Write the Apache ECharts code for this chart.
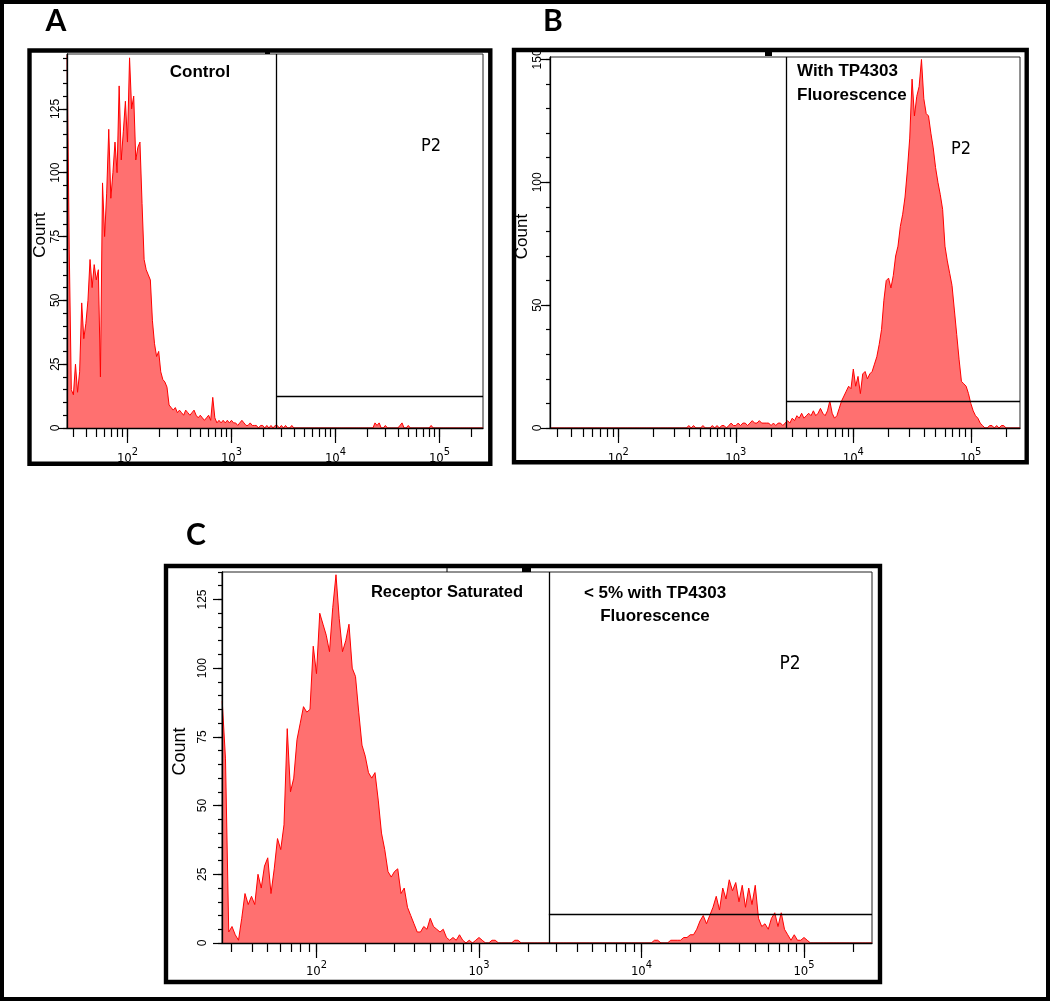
<!DOCTYPE html>
<html><head><meta charset="utf-8">
<script src="https://cdn.jsdelivr.net/npm/echarts@6/dist/echarts.min.js"></script>
<style>html,body{margin:0;padding:0;background:#fff}#c{width:1050px;height:1003px}</style>
</head><body><div id="c"></div>
<script>
// Histogram bins along log10(fluorescence): bin i sits at binStart + i*binStep
const binStart = 1.42;
const binStep = 0.02;

// Panel A: Control
const countsA = [
 146,70,15,13,25,14,22,49,35,41,
 50,66,55,64,58,62,20,96,75,92,
 117,90,100,112,100,134,105,116,128,112,
 145,125,130,105,110,112,88,66,62,60,
 58,42,33,28,30,22,19,18,16,9,
 8,7,8,6,7,6,5,7,6,5,
 6,7,5,4,5,4,3,4,5,3,
 12,4,2,3,2,3,2,3,2,3,
 2,2,1,2,3,2,1,1,2,1,
 1,1,0,1,1,0,1,0,1,0,
 1,1,0,1,0,1,0,0,1,0,
 0,0,0,0,0,0,0,0,0,0,
 0,0,0,0,0,0,0,0,0,0,
 0,0,0,0,0,0,0,0,0,0,
 0,0,0,0,0,0,0,0,2,1,
 2,0,0,1,0,0,0,0,0,0,
 1,2,0,0,1,0,0,0,0,0,
 0,0,0,0,0,1,0,0,0,0,
 0,0,0,0,0,0,0,0,0,0,
 0,0,0,0,0,0,0,0,0,0,
 0];

// Panel B: With TP4303 fluorescence
const countsB = [
 0,0,0,0,0,0,0,0,0,0,
 0,0,0,0,0,0,0,0,0,0,
 0,0,0,0,0,0,0,0,0,0,
 0,0,0,0,0,0,0,0,0,0,
 0,0,0,0,0,0,0,0,0,0,
 0,0,0,0,0,0,0,0,0,1,
 0,1,0,0,0,1,0,0,0,1,
 0,1,0,1,1,0,1,2,1,1,
 2,1,2,2,1,2,3,2,2,3,
 2,2,2,2,1,2,1,2,2,1,
 2,3,2,4,3,5,4,6,4,5,
 6,5,7,5,6,8,6,5,7,11,
 6,4,5,8,11,13,15,17,16,24,
 17,21,14,22,23,20,22,23,26,29,
 34,40,52,60,61,57,62,70,74,82,
 87,94,105,118,142,127,135,139,150,134,
 128,127,120,114,106,100,95,89,74,68,
 63,58,48,38,28,19,18,17,14,10,
 7,5,4,2,1,0,0,1,1,0,
 1,0,1,1,0,0,0,0,0,0,
 0];

// Panel C: Receptor saturated
const countsC = [
 88,67,4,6,3,1,9,18,14,17,
 14,25,20,28,31,18,27,38,34,43,
 78,55,60,74,80,86,84,85,108,98,
 120,116,112,106,122,134,118,106,110,116,
 100,97,84,72,68,62,60,62,52,40,
 34,26,24,26,27,18,20,13,10,7,
 4,4,6,5,9,6,5,4,5,2,
 1,2,1,3,1,0,1,0,1,2,
 1,0,0,1,1,0,0,0,0,0,
 1,1,0,0,0,0,0,0,0,0,
 0,0,0,0,0,0,0,0,0,0,
 0,0,0,0,0,0,0,0,0,0,
 0,0,0,0,0,0,0,0,0,0,
 0,0,0,1,1,0,0,0,1,1,
 1,1,2,2,3,3,5,8,10,7,
 10,13,17,12,20,16,23,19,22,15,
 21,13,20,14,21,9,6,7,5,9,
 11,6,11,5,3,1,3,1,1,2,
 1,0,0,0,0,0,0,0,0,0,
 0,0,0,0,0,0,0,0,0,0,
 0];

const panelCounts = [countsA, countsB, countsC];
const panelLetters = ['A', 'B', 'C'];
const xMin = 1.4185;          // log10 of axis minimum (~26)
const xMax = 5.4185;          // log10 of 262144
const decadeTicks = [2, 3, 4, 5];
const tickMultipliers = [1, 2, 3, 4, 5, 6, 7, 8, 9];
const yMaxes = [146.5, 151, 135];
const yMajorTicks = [[0, 25, 50, 75, 100, 125], [0, 50, 100, 150], [0, 25, 50, 75, 100, 125]];
const yMinorSteps = [5, 10, 5];
const gateX = 3.43;           // P2 gate left edge (log10)
const gateY = [12.3, 10.9, 10.5];
const textLines = {
  A: ['Control'],
  B: ['With TP4303', 'Fluorescence'],
  C1: ['Receptor Saturated'],
  C2: ['< 5% with TP4303', 'Fluorescence'],
  gate: 'P2',
  yName: 'Count'
};

// ---------- layout ----------
const grids = [
  { left: 67, top: 54, width: 416, height: 374 },
  { left: 550, top: 57, width: 470, height: 371 },
  { left: 222, top: 572, width: 650, height: 371 }
];
const yLabelMargin = [5, 6, 13];
const yNameGap = [15.5, 18, 26];
const yNameSize = [17, 17, 18];

const minorX = [];
for (let d = 1; d <= 5; d++) {
  tickMultipliers.forEach(k => {
    const v = d + Math.log10(k);
    if (v >= xMin && v <= xMax) minorX.push(v);
  });
}

const SANS = '"Liberation Sans", Arial, sans-serif';
const NARROW = '"Liberation Sans Narrow", "DejaVu Sans Condensed", "Liberation Sans", Arial, sans-serif';

const xAxes = [], yAxes = [], series = [];
grids.forEach((g, p) => {
  const minorY = [];
  for (let v = 0; v <= yMaxes[p]; v += yMinorSteps[p]) minorY.push(v);
  xAxes.push({
    gridIndex: p, type: 'value', min: xMin, max: xMax, position: 'bottom', z: 6,
    axisLine: { show: true, onZero: false, lineStyle: { color: '#000', width: 1.3 } },
    axisTick: { show: true, customValues: minorX, length: 9, lineStyle: { color: '#000', width: 1.2 } },
    axisLabel: { show: false }, splitLine: { show: false }
  });
  xAxes.push({
    gridIndex: p, type: 'value', min: xMin, max: xMax, position: 'bottom', z: 6,
    axisLine: { show: false, onZero: false },
    axisTick: { show: true, customValues: decadeTicks, length: 15, lineStyle: { color: '#000', width: 1.2 } },
    axisLabel: {
      show: true, customValues: decadeTicks, margin: p === 2 ? 17 : 19,
      formatter: v => '{b|10}{s|' + v + '}',
      rich: {
        b: { fontSize: 13, fontFamily: NARROW, color: '#000', verticalAlign: 'bottom', lineHeight: 18 },
        s: { fontSize: 11, fontFamily: NARROW, color: '#000', verticalAlign: 'top', lineHeight: 11 }
      }
    },
    splitLine: { show: false }
  });
  yAxes.push({
    gridIndex: p, type: 'value', min: 0, max: yMaxes[p], position: 'left', z: 6,
    axisLine: { show: true, onZero: false, lineStyle: { color: '#000', width: 1.3 } },
    axisTick: { show: true, customValues: minorY, length: 4, lineStyle: { color: '#000', width: 1.2 } },
    axisLabel: { show: false }, splitLine: { show: false }
  });
  yAxes.push({
    gridIndex: p, type: 'value', min: 0, max: yMaxes[p], position: 'left', z: 6,
    axisLine: { show: false, onZero: false },
    axisTick: { show: true, customValues: yMajorTicks[p], length: 9, lineStyle: { color: '#000', width: 1.2 } },
    axisLabel: {
      show: true, customValues: yMajorTicks[p], rotate: 90, margin: yLabelMargin[p],
      fontSize: 12, fontFamily: SANS, color: '#000'
    },
    name: textLines.yName, nameLocation: 'middle', nameRotate: 90, nameGap: yNameGap[p],
    nameTextStyle: { fontSize: yNameSize[p], fontFamily: SANS, color: '#000', padding: [0, 0, 0, 12] },
    splitLine: { show: false }
  });
  series.push({
    type: 'line', xAxisIndex: 2 * p, yAxisIndex: 2 * p, symbol: 'none', clip: true, z: 2,
    data: panelCounts[p].map((c, i) => [binStart + binStep * i, c]),
    lineStyle: { color: '#ff0000', width: 1 },
    itemStyle: { color: '#ff0000' },
    areaStyle: { color: '#ff7070', opacity: 1 },
    markLine: {
      silent: true, symbol: 'none', animation: false, z: 5,
      label: { show: false },
      lineStyle: { color: '#000', width: 1.3, type: 'solid' },
      emphasis: { disabled: true },
      data: [
        [{ coord: [gateX, 0] }, { coord: [gateX, yMaxes[p]] }],
        [{ coord: [gateX, gateY[p]] }, { coord: [xMax, gateY[p]] }]
      ]
    }
  });
});

function txt(x, y, text, font, align, lineHeight) {
  return {
    type: 'text', x: x, y: y, z: 20,
    style: {
      text: text, font: font, fill: '#000',
      textAlign: align || 'center', align: align || 'center',
      textVerticalAlign: 'middle', verticalAlign: 'middle',
      lineHeight: lineHeight
    }
  };
}
function box(x, y, w, h, lw) {
  return { type: 'rect', z: 20, shape: { x: x, y: y, width: w, height: h },
    style: { fill: null, stroke: '#000', lineWidth: lw } };
}
function block(x, y, w, h) {
  return { type: 'rect', z: 20, shape: { x: x, y: y, width: w, height: h }, style: { fill: '#000' } };
}

const BOLD17 = 'bold 17px ' + SANS;
const graphics = [
  box(2, 2, 1046, 997, 4),
  box(29.5, 50.5, 460.8, 413.3, 4.4),
  box(514, 50, 512.7, 412.3, 4.4),
  box(166, 566, 714, 416, 4.4),
  block(265, 50, 5, 4), block(765, 52, 7, 4), block(522, 568, 9, 4),
  { type: 'rect', z: 20, shape: { x: 446.5, y: 566, width: 1, height: 6 }, style: { fill: '#000' } },
  txt(56, 21, panelLetters[0], 'bold 30px Lato, "Open Sans", sans-serif'),
  txt(553, 21, panelLetters[1], 'bold 30px Lato, "Open Sans", sans-serif'),
  txt(196, 535, panelLetters[2], 'bold 30px Lato, "Open Sans", sans-serif'),
  txt(200, 72, textLines.A.join('\n'), BOLD17),
  txt(797, 83, textLines.B.join('\n'), BOLD17, 'left', 24),
  txt(447, 592, textLines.C1.join('\n'), 'bold 16.5px ' + SANS),
  txt(655, 605, textLines.C2.join('\n'), BOLD17, 'center', 23),
  txt(431, 146, textLines.gate, '18px ' + NARROW),
  txt(961, 149, textLines.gate, '18px ' + NARROW),
  txt(790, 664, textLines.gate, '19px ' + NARROW)
];

const chart = echarts.init(document.getElementById('c'), null, { renderer: 'canvas' });
chart.setOption({
  animation: false,
  backgroundColor: '#fff',
  grid: grids.map(g => Object.assign({ show: true, borderColor: '#222', borderWidth: 1, backgroundColor: 'transparent' }, g)),
  xAxis: xAxes,
  yAxis: yAxes,
  series: series,
  graphic: graphics
});
</script></body></html>
